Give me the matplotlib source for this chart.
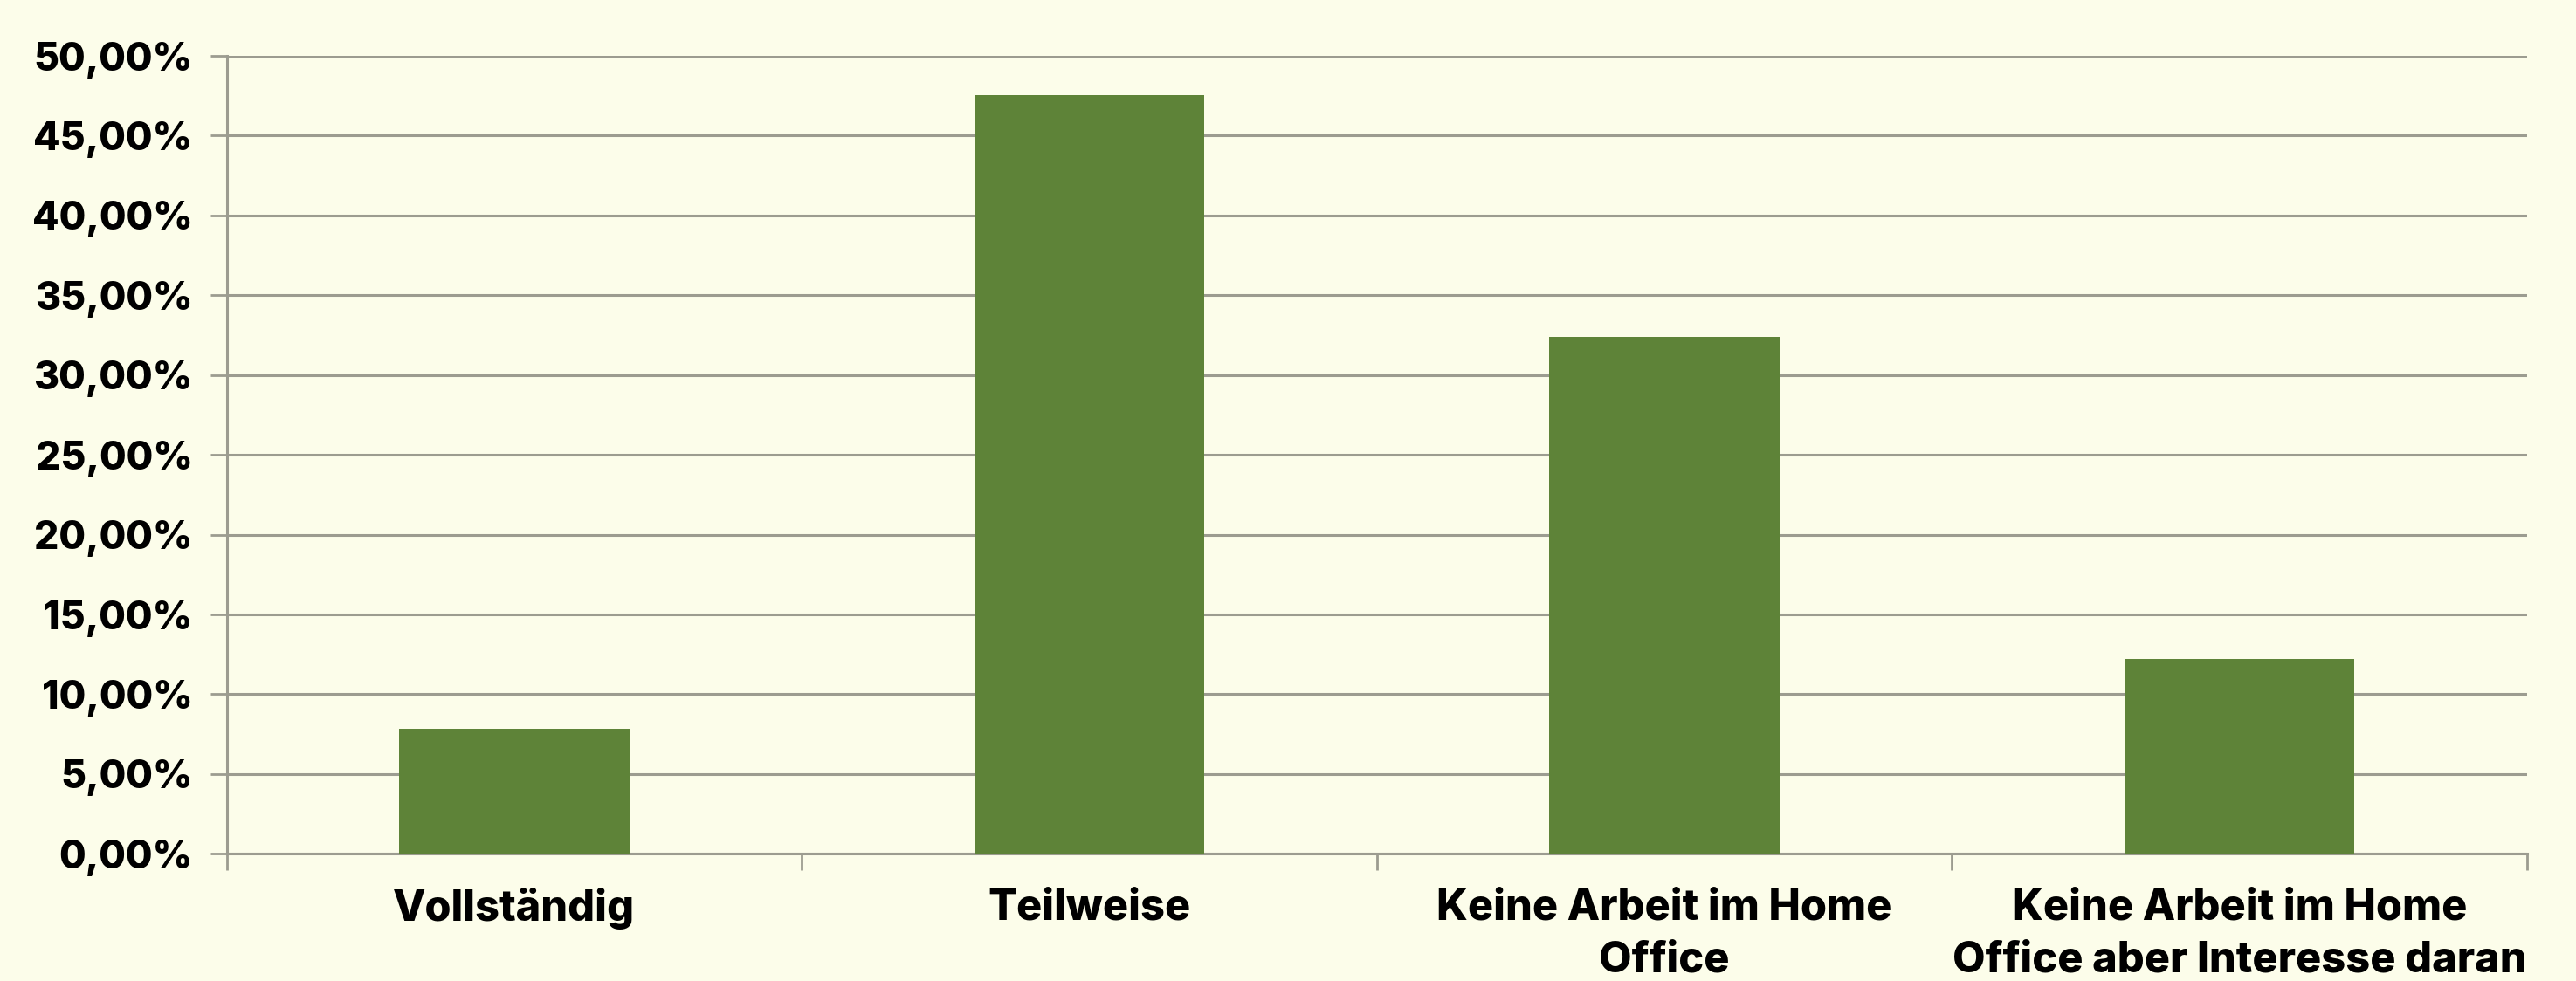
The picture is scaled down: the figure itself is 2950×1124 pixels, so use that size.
import numpy as np
import matplotlib.pyplot as plt
from matplotlib.ticker import FuncFormatter, MultipleLocator, FixedLocator

categories = ["Vollständig", "Teilweise", "Keine Arbeit im Home\nOffice",
              "Keine Arbeit im Home\nOffice aber Interesse daran"]
shares = [7.83, 47.53, 32.40, 12.24]

bg = "#FCFDEA"
bar_color = "#5E8338"
grid_color = "#9C9C90"

plt.rcParams["font.family"] = ["Inter", "DejaVu Sans"]

fig = plt.figure(figsize=(29.5, 11.24), dpi=100, facecolor=bg)
ax = fig.add_axes([0.088, 0.1296, 0.893, 0.8134], facecolor=bg)

x = np.arange(len(categories))
ax.bar(x, shares, width=0.4, color=bar_color, zorder=3)

ax.set_xlim(-0.5, len(categories) - 0.5)
ax.set_ylim(0, 50)

ax.yaxis.set_major_locator(MultipleLocator(5))
ax.yaxis.set_major_formatter(FuncFormatter(lambda v, p: f"{v:.2f}".replace(".", ",") + "%"))
ax.grid(axis="y", color=grid_color, linewidth=2.2, zorder=0)

ax.set_xticks(x)
ax.set_xticklabels(categories, fontsize=35, fontweight="heavy", linespacing=1.4)
ax.xaxis.set_minor_locator(FixedLocator(np.arange(len(categories) + 1) - 0.5))
ax.tick_params(axis="x", which="major", length=0, pad=28)
ax.tick_params(axis="x", which="minor", length=14, width=2, color=grid_color)
ax.tick_params(axis="y", length=14, width=2, color=grid_color, labelsize=32, pad=14)
for lab in ax.get_yticklabels():
    lab.set_fontweight("heavy")

for side in ["top", "right"]:
    ax.spines[side].set_visible(False)
for side in ["left", "bottom"]:
    ax.spines[side].set_color(grid_color)
    ax.spines[side].set_linewidth(2.2)

fig.savefig("out.png", dpi=100, facecolor=bg)
